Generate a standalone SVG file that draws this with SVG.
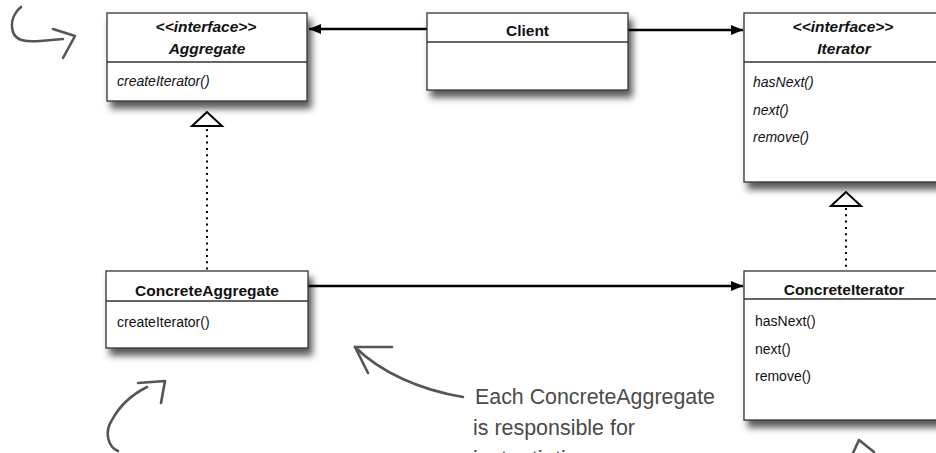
<svg xmlns="http://www.w3.org/2000/svg" width="936" height="453" viewBox="0 0 936 453">
<defs>
<filter id="sh" x="-10%" y="-20%" width="130%" height="160%">
<feDropShadow dx="4" dy="7" stdDeviation="3.5" flood-color="#000" flood-opacity="0.65"/>
</filter>
<marker id="ah" viewBox="0 0 12 10" refX="12" refY="5" markerWidth="12" markerHeight="10" markerUnits="userSpaceOnUse" orient="auto">
<path d="M0,0 L12,5 L0,10 Z" fill="#000"/>
</marker>
</defs>
<style>
.box{fill:#fff;stroke:#333;stroke-width:1.3;filter:url(#sh)}
.sep{stroke:#333;stroke-width:1.3}
.t{font-family:"Liberation Sans",Arial,sans-serif;fill:#111}
.title{font-size:15.5px;font-weight:bold;text-anchor:middle}
.iface{font-size:15.5px;font-weight:bold;font-style:italic;text-anchor:middle}
.m{font-size:14px}
.mi{font-size:14px;font-style:italic}
.assoc{stroke:#000;stroke-width:2.6;fill:none;marker-end:url(#ah)}
.dot{stroke:#000;stroke-width:2;stroke-dasharray:2 4.3;fill:none}
.tri{fill:#fff;stroke:#000;stroke-width:2}
.hand{stroke:#555;stroke-width:2.6;fill:none;stroke-linecap:round;stroke-linejoin:round}
.note{font-family:"Liberation Sans Narrow","Liberation Sans",sans-serif;font-size:22px;fill:#4a4a4a}
</style>

<g id="connectors">
<line class="assoc" x1="427" y1="29" x2="309" y2="29"/>
<line class="assoc" x1="628" y1="30" x2="743" y2="30"/>
<line class="assoc" x1="308" y1="286" x2="743" y2="286"/>
<line class="dot" x1="207" y1="129" x2="207" y2="271"/>
<polygon class="tri" points="207,112 192,126 222,126"/>
<line class="dot" x1="846" y1="208" x2="846" y2="271"/>
<polygon class="tri" points="846,192 831,206 861,206"/>
</g>

<g id="Aggregate">
<rect class="box" x="107" y="13" width="200" height="88"/>
<line class="sep" x1="107" y1="62" x2="307" y2="62"/>
<text class="t iface" x="206" y="32">&lt;&lt;interface&gt;&gt;</text>
<text class="t title" x="207" y="54" font-style="italic">Aggregate</text>
<text class="t mi" x="117" y="86">createIterator()</text>
</g>

<g id="Client">
<rect class="box" x="427" y="13" width="201" height="77"/>
<line class="sep" x1="427" y1="42" x2="628" y2="42"/>
<text class="t title" x="527.5" y="36">Client</text>
</g>

<g id="Iterator">
<rect class="box" x="744" y="13" width="200" height="169"/>
<line class="sep" x1="744" y1="62" x2="944" y2="62"/>
<text class="t iface" x="843" y="32">&lt;&lt;interface&gt;&gt;</text>
<text class="t title" x="844" y="54" font-style="italic">Iterator</text>
<text class="t mi" x="753" y="87">hasNext()</text>
<text class="t mi" x="753" y="115">next()</text>
<text class="t mi" x="753" y="142">remove()</text>
</g>

<g id="ConcreteAggregate">
<rect class="box" x="106" y="271" width="202" height="77"/>
<line class="sep" x1="106" y1="301" x2="308" y2="301"/>
<text class="t title" x="207" y="296">ConcreteAggregate</text>
<text class="t m" x="117" y="327">createIterator()</text>
</g>

<g id="ConcreteIterator">
<rect class="box" x="744" y="271" width="200" height="149"/>
<line class="sep" x1="744" y1="299" x2="944" y2="299"/>
<text class="t title" x="844" y="295">ConcreteIterator</text>
<text class="t m" x="755" y="326">hasNext()</text>
<text class="t m" x="755" y="354">next()</text>
<text class="t m" x="755" y="381">remove()</text>
</g>

<g id="annotations">
<path class="hand" d="M21,7 C14,13 10,22 13,32 C16,41 26,42 40,41 L63,39"/>
<path class="hand" d="M53,29 L75,36 L63,58"/>
<path class="hand" d="M118,451 C108,447 104,432 112,420 C120,405 133,394 147,387"/>
<path class="hand" d="M138,383 L165,381 L161,403"/>
<path class="hand" d="M355,347 C380,372 420,390 463,397"/>
<path class="hand" d="M392,347 L355,347 L368,373"/>
<path class="hand" d="M853,453 L859,440 L874,452"/>
<text class="note" x="475" y="404" textLength="240" lengthAdjust="spacingAndGlyphs">Each ConcreteAggregate</text>
<text class="note" x="473" y="435" textLength="162" lengthAdjust="spacingAndGlyphs">is responsible for</text>
<text class="note" x="473" y="466">instantiating a</text>
</g>
</svg>
